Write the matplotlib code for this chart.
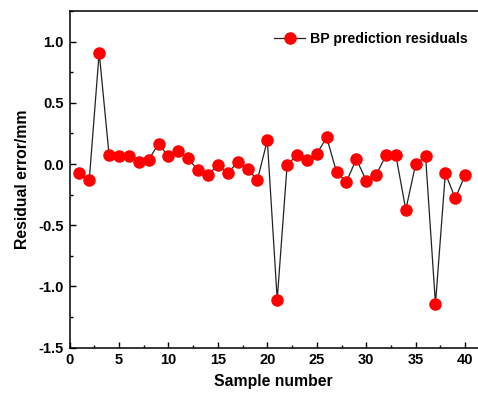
import matplotlib
matplotlib.use("Agg")
import matplotlib.pyplot as plt
from matplotlib.ticker import MultipleLocator

plt.rcParams['font.family'] = ['Liberation Sans', 'DejaVu Sans']
plt.rcParams['font.weight'] = 'bold'
plt.rcParams['axes.unicode_minus'] = False

# residuals
sample = list(range(1, 41))
residual = [-0.074, -0.128, 0.911, 0.076, 0.062, 0.062, 0.016, 0.035, 0.166, 0.062,
            0.109, 0.046, -0.052, -0.090, -0.006, -0.074, 0.016, -0.041, -0.128, 0.193,
            -1.108, -0.011, 0.076, 0.030, 0.084, 0.217, -0.065, -0.144, 0.041, -0.136,
            -0.087, 0.070, 0.070, -0.373, 0.000, 0.062, -1.143, -0.074, -0.281, -0.090]

fig = plt.figure(figsize=(4.78, 4.01), dpi=100)
ax = fig.add_axes([69.5 / 478, 1 - 347.7 / 401, 1 - 69.5 / 478, (347.7 - 11) / 401])

ax.plot(sample, residual, color='#222222', lw=0.9, marker='o', ms=8,
        mfc='red', mec='red', label='BP prediction residuals')

ax.set_xlim(0, 41.3)
ax.set_ylim(-1.5, 1.25)
ax.xaxis.set_major_locator(MultipleLocator(5))
ax.xaxis.set_minor_locator(MultipleLocator(2.5))
ax.yaxis.set_major_locator(MultipleLocator(0.5))
ax.yaxis.set_minor_locator(MultipleLocator(0.25))
ax.tick_params(which='both', direction='in', top=False, right=False, width=1)
ax.tick_params(which='major', length=4.5, labelsize=10.5, pad=4)
ax.tick_params(which='minor', length=2.5)
for lab in ax.get_xticklabels() + ax.get_yticklabels():
    lab.set_fontweight('bold')
for s in ax.spines.values():
    s.set_linewidth(1.1)
ax.spines['right'].set_visible(False)

ax.set_xlabel('Sample number', fontsize=11.3, fontweight='bold', labelpad=5)
ax.set_ylabel('Residual error/mm', fontsize=11.3, fontweight='bold', labelpad=6)

ax.legend(loc='upper right', bbox_to_anchor=(1.005, 0.975), frameon=False,
          prop={'weight': 'bold', 'size': 10.2}, handlelength=2.2, handletextpad=0.3)

fig.savefig('out.png', dpi=100)
